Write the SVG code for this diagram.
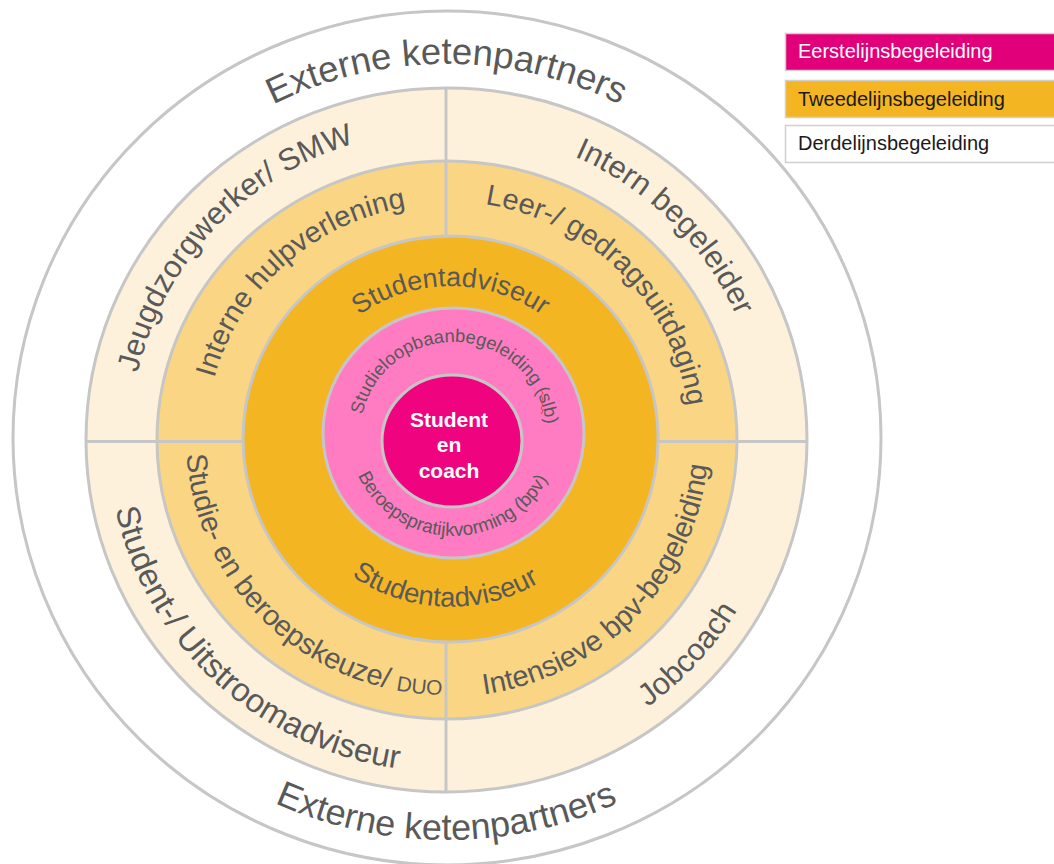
<svg xmlns="http://www.w3.org/2000/svg" width="1054" height="864" viewBox="0 0 1054 864">
<style>
.ring{stroke:#C6C6C6;stroke-width:3}
.div{stroke:#C6C6C6;stroke-width:3;fill:none}
.lbl{font-family:"Liberation Sans",Arial,sans-serif;fill:#595959}
.leg{font-family:"Liberation Sans",Arial,sans-serif;font-size:20px}
</style>
<defs>
<path id="pTopExt" d="M86.1,311.4 A383.5,376 0 0 1 806.9,311.4"/>
<path id="pBotExt" d="M63.1,576.8 A408,400 0 0 0 829.9,576.8"/>
<path id="pJeugd" d="M144.9,533.2 A316.2,310 0 0 1 514.9,137.3"/>
<path id="pIntern" d="M367.3,139.9 A316.2,310 0 0 1 751.2,522.8"/>
<path id="pHulp" d="M211.5,491.1 A240.7,236 0 0 1 518.9,214.9"/>
<path id="pLeer" d="M386.4,208.4 A243.8,239 0 0 1 681.1,504.8"/>
<path id="pSaTop" d="M296.9,412.4 A156,153 0 0 1 604.1,412.4"/>
<path id="pSaBot" d="M280.8,462.4 A171.4,168 0 0 0 618.1,473.9"/>
<path id="pSlb" d="M361.4,444.1 A92.8,91 0 1 1 543.9,453.5"/>
<path id="pBpv" d="M350.4,413.3 A105,103 0 1 0 557.2,416.9"/>
<path id="pKeuze" d="M194.1,378.3 A260.1,255 0 0 0 518.2,685.1"/>
<path id="pIntens" d="M385.3,689.9 A262.1,257 0 0 0 697.8,367.0"/>
<path id="pUitstroom" d="M117.0,363.6 A338.6,332 0 0 0 543.8,758.0"/>
<path id="pJob" d="M505.3,767.0 A338.6,332 0 0 0 784.3,463.2"/>
</defs>

<g id="ring-extern">
<ellipse class="ring" cx="447" cy="438" rx="434" ry="427" fill="#FFFFFF"/>
<text class="lbl" font-size="36.5"><textPath href="#pTopExt" startOffset="50%" text-anchor="middle">Externe ketenpartners</textPath></text>
<text class="lbl" font-size="36"><textPath href="#pBotExt" startOffset="50%" text-anchor="middle">Externe ketenpartners</textPath></text>
</g>

<g id="ring-derdelijns">
<ellipse class="ring" cx="446.5" cy="440" rx="360.5" ry="352" fill="#FDF1DC"/>
</g>

<g id="ring-tweedelijns">
<ellipse class="ring" cx="447" cy="440" rx="290" ry="279" fill="#FAD583"/>
</g>

<g id="connectors">
<line class="div" x1="446" y1="88" x2="446" y2="250"/>
<line class="div" x1="446" y1="630" x2="446" y2="792"/>
<line class="div" x1="86" y1="441.5" x2="255" y2="441.5"/>
<line class="div" x1="645" y1="441.5" x2="807" y2="441.5"/>
</g>

<g id="ring-studentadviseur">
<ellipse class="ring" cx="450.5" cy="439" rx="207.5" ry="203" fill="#F4B522"/>
<text class="lbl" font-size="27"><textPath href="#pSaTop" startOffset="50%" text-anchor="middle">Studentadviseur</textPath></text>
<text class="lbl" font-size="27.5"><textPath href="#pSaBot" startOffset="50%" text-anchor="middle">Studentadviseur</textPath></text>
</g>

<g id="ring-eerstelijns">
<ellipse class="ring" cx="453.5" cy="433" rx="130.5" ry="125" fill="#FF7BC2"/>
<text class="lbl" font-size="18.3"><textPath href="#pSlb" startOffset="50%" text-anchor="middle">Studieloopbaanbegeleiding (slb)</textPath></text>
<text class="lbl" font-size="18.8"><textPath href="#pBpv" startOffset="50%" text-anchor="middle">Beroepspratijkvorming (bpv)</textPath></text>
<path d="M541,390 l2,3 -2,3 2,3 -2,3 2,3 -2,3 2,3 -2,3" fill="none" stroke="#E8403A" stroke-width="1"/>
</g>

<g id="node-student-coach">
<ellipse class="ring" cx="452" cy="441" rx="70" ry="66" fill="#F0037F"/>
<text font-family="Liberation Sans, Arial, sans-serif" font-size="21" font-weight="bold" fill="#FFFFFF" text-anchor="middle"><tspan x="449" y="427">Student</tspan><tspan x="449" y="452">en</tspan><tspan x="449" y="478">coach</tspan></text>
</g>

<g id="node-jeugdzorgwerker">
<text class="lbl" font-size="31"><textPath href="#pJeugd" startOffset="50%" text-anchor="middle">Jeugdzorgwerker/ SMW</textPath></text>
</g>
<g id="node-intern-begeleider">
<text class="lbl" font-size="31"><textPath href="#pIntern" startOffset="50%" text-anchor="middle">Intern begeleider</textPath></text>
</g>
<g id="node-interne-hulpverlening">
<text class="lbl" font-size="29"><textPath href="#pHulp" startOffset="50%" text-anchor="middle">Interne hulpverlening</textPath></text>
</g>
<g id="node-leer-gedrag">
<text class="lbl" font-size="29"><textPath href="#pLeer" startOffset="50%" text-anchor="middle">Leer-/ gedragsuitdaging</textPath></text>
</g>
<g id="node-studie-beroepskeuze">
<text class="lbl" font-size="29"><textPath href="#pKeuze" startOffset="50%" text-anchor="middle">Studie- en beroepskeuze/ <tspan font-size="21">DUO</tspan></textPath></text>
</g>
<g id="node-intensieve-bpv">
<text class="lbl" font-size="29"><textPath href="#pIntens" startOffset="50%" text-anchor="middle">Intensieve bpv-begeleiding</textPath></text>
</g>
<g id="node-uitstroomadviseur">
<text class="lbl" font-size="33"><textPath href="#pUitstroom" startOffset="50%" text-anchor="middle">Student-/ Uitstroomadviseur</textPath></text>
</g>
<g id="node-jobcoach">
<text class="lbl" font-size="31"><textPath href="#pJob" startOffset="50%" text-anchor="middle">Jobcoach</textPath></text>
</g>

<g id="legend-eerstelijns">
<rect x="785.5" y="33.5" width="280" height="37" fill="#E2007A" stroke="#D0D0D0" stroke-width="1.5"/>
<text class="leg" x="798" y="58" fill="#FFFFFF">Eerstelijnsbegeleiding</text>
</g>
<g id="legend-tweedelijns">
<rect x="785.5" y="80.5" width="280" height="37" fill="#F4B522" stroke="#D0D0D0" stroke-width="1.5"/>
<text class="leg" x="798" y="106" fill="#1A1A1A">Tweedelijnsbegeleiding</text>
</g>
<g id="legend-derdelijns">
<rect x="785.5" y="125.5" width="280" height="37" fill="#FFFFFF" stroke="#D0D0D0" stroke-width="1.5"/>
<text class="leg" x="798" y="150" fill="#1A1A1A">Derdelijnsbegeleiding</text>
</g>
</svg>
